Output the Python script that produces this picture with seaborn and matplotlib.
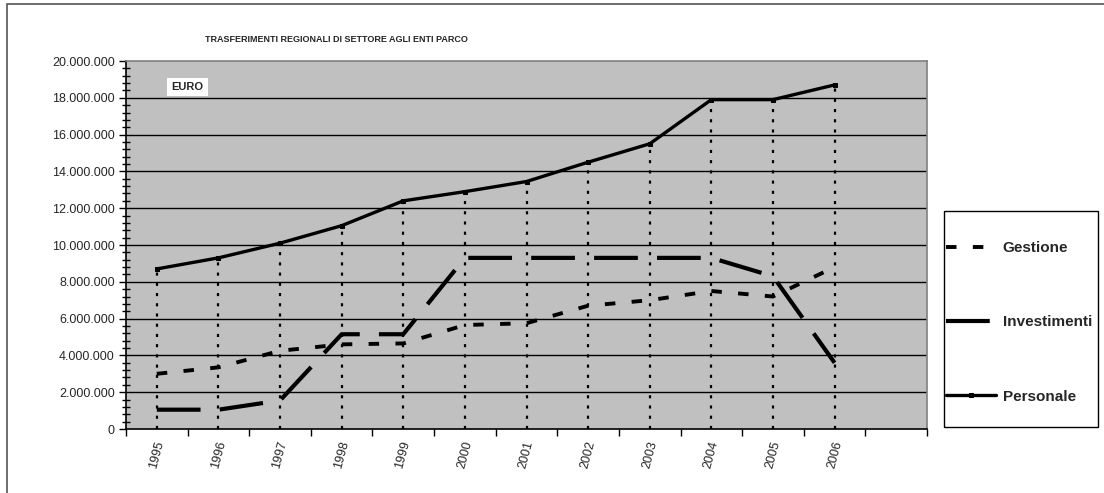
import numpy as np
import pandas as pd
import matplotlib
matplotlib.use("Agg")
import matplotlib.pyplot as plt
import matplotlib.ticker as mticker
from matplotlib.patches import Rectangle
import seaborn as sns

anni = ["1995", "1996", "1997", "1998", "1999", "2000", "2001",
        "2002", "2003", "2004", "2005", "2006"]
gestione = [3000000, 3350000, 4250000, 4600000, 4650000, 5650000, 5750000,
            6700000, 7000000, 7500000, 7200000, 8800000]
investimenti = [1050000, 1050000, 1550000, 5150000, 5150000, 9300000, 9300000,
                9300000, 9300000, 9300000, 8300000, 3600000]
personale = [8700000, 9300000, 10100000, 11050000, 12400000, 12900000, 13450000,
             14500000, 15500000, 17900000, 17900000, 18700000]

sns.set_theme(style="white")
plt.rcParams["font.family"] = ["Liberation Sans", "DejaVu Sans"]

pos = np.arange(len(anni))
df = pd.DataFrame({"pos": pos, "Gestione": gestione,
                   "Investimenti": investimenti, "Personale": personale})

fig = plt.figure(figsize=(11.04, 4.93), dpi=100)
ax = fig.add_axes([126 / 1104, 1 - 429 / 493, 801 / 1104, 368 / 493])
ax.set_facecolor("#c0c0c0")

# griglia orizzontale
for v in range(2000000, 20000000, 2000000):
    ax.axhline(v, color="black", lw=1.0, zorder=1)

# linee verticali tratteggiate dai punti del personale
ax.vlines(pos, 0, df["Personale"], colors="black", lw=1.6,
          linestyles=[(0, (1.4, 3.2))], zorder=2)

sns.lineplot(data=df, x="pos", y="Gestione", ax=ax, color="black", lw=2.8,
             linestyle=(0, (2.7, 4.2)), label="Gestione", zorder=3)
sns.lineplot(data=df, x="pos", y="Investimenti", ax=ax, color="black", lw=3.0,
             linestyle=(0, (10.5, 4.6)), label="Investimenti", zorder=3)
sns.lineplot(data=df, x="pos", y="Personale", ax=ax, color="black", lw=2.4,
             marker="s", markersize=3.5, markeredgecolor="black",
             label="Personale", zorder=4)

ax.set_xlim(-0.5, 12.5)
ax.set_ylim(0, 20000000)
ax.set_xlabel("")
ax.set_ylabel("")

ax.set_xticks(pos)
ax.set_xticklabels(anni, rotation=75, fontsize=9)
ax.set_xticks(np.arange(-0.5, 13, 1), minor=True)
ax.tick_params(axis="x", which="major", length=0, pad=8)
ax.tick_params(axis="x", which="minor", length=5, width=1, color="black",
               direction="out", bottom=True)

ax.yaxis.set_major_locator(mticker.MultipleLocator(2000000))
ax.yaxis.set_minor_locator(mticker.MultipleLocator(400000))
ax.yaxis.set_major_formatter(
    mticker.FuncFormatter(lambda v, p: f"{int(v):,}".replace(",", ".")))
ax.tick_params(axis="y", which="major", length=5, width=1, color="black",
               direction="out", left=True, labelsize=9, pad=3)
ax.tick_params(axis="y", which="minor", length=6, width=1, color="black",
               direction="inout", left=True)

for s in ["top", "right"]:
    ax.spines[s].set_color("#808080")
    ax.spines[s].set_linewidth(1.2)
for s in ["left", "bottom"]:
    ax.spines[s].set_color("black")
    ax.spines[s].set_linewidth(1.2)

ax.text(0.057, 0.93, "EURO", transform=ax.transAxes, fontsize=8,
        fontweight="bold", va="center", ha="left",
        bbox=dict(facecolor="white", edgecolor="none", pad=3))

fig.text(336 / 1104, 1 - 40 / 493,
         "TRASFERIMENTI REGIONALI DI SETTORE AGLI ENTI PARCO",
         ha="center", va="center", fontsize=6.5, fontweight="bold")

# legenda: riquadro a parte, voci senza cornice
handles, labels = ax.get_legend_handles_labels()
ax.legend_.remove()
fig.patches.append(Rectangle((944 / 1104, 1 - 427 / 493), 154 / 1104, 216 / 493,
                             transform=fig.transFigure, facecolor="white",
                             edgecolor="black", lw=1.0, zorder=0))
fig.legend(handles, labels, loc="upper left",
           bbox_to_anchor=(946 / 1104, 1 - 241 / 493),
           frameon=False, prop={"weight": "bold", "size": 11},
           labelspacing=3.95, handlelength=3.3, handletextpad=0.4,
           borderpad=0, borderaxespad=0)

# cornice della figura
fig.patches.append(Rectangle((7 / 1104, -0.1), 1.2, 1 - 4 / 493 + 0.1,
                             transform=fig.transFigure, fill=False,
                             edgecolor="#555555", lw=1.2))

fig.savefig("out.png", dpi=100)
